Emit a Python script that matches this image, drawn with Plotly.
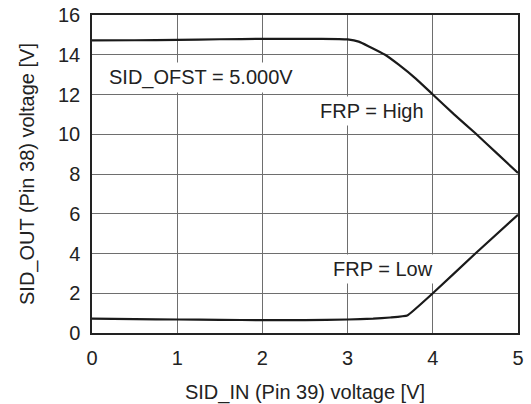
import plotly.graph_objects as go

x_high = [0, 0.5, 1, 1.5, 2, 2.5, 2.9, 3.0, 3.13, 3.25, 3.44, 3.6, 3.8, 4, 4.25, 4.5, 4.75, 5]
y_high = [14.72, 14.73, 14.75, 14.78, 14.8, 14.8, 14.79, 14.77, 14.66, 14.42, 14.0, 13.5, 12.8, 12.0, 11.0, 10.05, 9.05, 8.05]

x_low = [0, 0.5, 1, 1.5, 2, 2.5, 3, 3.3, 3.5, 3.7, 4, 4.5, 5]
y_low = [0.72, 0.7, 0.68, 0.66, 0.65, 0.65, 0.68, 0.72, 0.78, 0.88, 2.0, 4.0, 5.95]

labels = [("SID_OFST = 5.000V", 1.28, 12.85), ("FRP = High", 3.29, 11.17), ("FRP = Low", 3.42, 3.22)]

FONT = "Liberation Sans, Arial"
fig = go.Figure()
fig.add_trace(go.Scatter(x=x_high, y=y_high, mode="lines", line=dict(color="#1a1a1a", width=2.2, shape="spline", smoothing=0.5)))
fig.add_trace(go.Scatter(x=x_low, y=y_low, mode="lines", line=dict(color="#1a1a1a", width=2.2, shape="spline", smoothing=0.3)))

for t, lx, ly in labels:
    fig.add_annotation(x=lx, y=ly, text=t, showarrow=False, bgcolor="white",
                       font=dict(family=FONT, size=20, color="#222"), borderpad=3)

axis_common = dict(showgrid=True, gridcolor="#6e6e6e", gridwidth=1, showline=True, linecolor="#222", linewidth=1.5,
                   mirror=True, zeroline=False, ticks="", automargin=False, ticklabeloverflow="allow",
                   tickfont=dict(family=FONT, size=20, color="#222"),
                   title_font=dict(family=FONT, size=20, color="#222"))
fig.update_xaxes(range=[0, 5], dtick=1, title_text="SID_IN (Pin 39) voltage [V]", title_standoff=17,
                 ticklabelstandoff=6, **axis_common)
fig.update_yaxes(range=[0, 16], dtick=2, title_text="SID_OUT (Pin 38) voltage [V]", title_standoff=18,
                 ticklabelstandoff=6, **axis_common)
fig.update_layout(width=531, height=404, margin=dict(l=92, r=13, t=15, b=71), showlegend=False,
                  plot_bgcolor="white", paper_bgcolor="white")
fig.write_html("out.html", config={"displayModeBar": False}, post_script="document.body.style.margin='0px';")
